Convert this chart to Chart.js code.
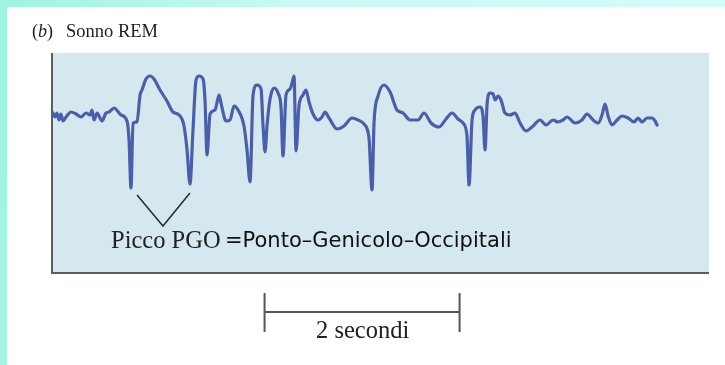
<!DOCTYPE html>
<html>
<head>
<meta charset="utf-8">
<script src="https://cdn.jsdelivr.net/npm/chart.js@4/dist/chart.umd.min.js"></script>
<style>
  body { margin: 0; width: 725px; height: 365px; position: relative; overflow: hidden; background: #fff; }
  #stripTop { position: absolute; left: 0; top: 0; width: 725px; height: 7px;
    background: linear-gradient(to right, #9ef4de, #c8f9f6 40%, #d4fbfb); }
  #stripLeft { position: absolute; left: 0; top: 0; width: 7px; height: 365px;
    background: linear-gradient(to bottom, #9ef4de, #a4f5e2); }
  canvas { position: absolute; left: 0; top: 0; }
  .txt { position: absolute; white-space: nowrap; color: #222; }
  .serif { font-family: "Liberation Serif", "DejaVu Serif", serif; }
  .sans { font-family: "DejaVu Sans", sans-serif; color: #111; }
</style>
</head>
<body>
<div id="stripTop"></div>
<div id="stripLeft"></div>
<canvas id="eeg" width="725" height="365"></canvas>
<div class="txt serif" style="left:32px; top:22px; font-size:18px; line-height:19px;">(<i>b</i>)</div>
<div class="txt serif" style="left:66px; top:22px; font-size:18.5px; line-height:19px;">Sonno REM</div>
<div class="txt serif" style="left:111px; top:228px; font-size:24.5px; line-height:24px;">Picco PGO</div>
<div class="txt sans" style="left:225px; top:229px; font-size:21px; line-height:23px;">=Ponto–Genicolo–Occipitali</div>
<div class="txt serif" style="left:316px; top:318px; font-size:24.5px; line-height:24px;">2 secondi</div>
<script>
// Tracciato EEG durante il sonno REM (tempo in secondi, ampiezza in unità arbitrarie)
const timeSec = [
  0.010, 0.031, 0.051, 0.072, 0.092, 0.113, 0.144, 0.195, 0.246, 0.297,
  0.349, 0.390, 0.410, 0.431, 0.462, 0.513, 0.554, 0.585, 0.636, 0.708,
  0.769, 0.790, 0.810, 0.831, 0.872, 0.903, 0.923, 0.964, 1.005, 1.046,
  1.108, 1.179, 1.241, 1.303, 1.354, 1.385, 1.415, 1.446, 1.477, 1.508,
  1.549, 1.569, 1.590, 1.621, 1.672, 1.713, 1.733, 1.785, 1.826, 1.867,
  1.908, 1.969, 2.000, 2.031, 2.062, 2.103, 2.144, 2.164, 2.185, 2.205,
  2.236, 2.277, 2.318, 2.349, 2.369, 2.400, 2.441, 2.462, 2.482, 2.503,
  2.533, 2.574, 2.605, 2.636, 2.677, 2.728, 2.769, 2.800, 2.841, 2.923,
  2.995, 3.077, 3.138, 3.200, 3.251, 3.282, 3.303, 3.344, 3.405, 3.467,
  3.538, 3.600, 3.672, 3.754, 3.815, 3.887, 3.969, 4.041, 4.103, 4.164,
  4.215, 4.256, 4.277, 4.308, 4.338, 4.390, 4.421, 4.441, 4.462, 4.492,
  4.523, 4.544, 4.574, 4.605, 4.646, 4.697, 4.749, 4.800, 4.862, 4.923,
  5.005, 5.067, 5.138, 5.190, 5.241, 5.282, 5.364, 5.436, 5.487, 5.549,
  5.600, 5.641, 5.672, 5.703, 5.744, 5.795, 5.846, 5.908, 5.969, 6.010,
  6.051, 6.103, 6.154, 6.185, 6.205
];
const amplitude = [
    5,   1,   5,  -2,   4,  -3,   1,   6,   4,   1,
    5,   3,   8,  -2,   5,  -3,   5,   6,  10,   3,
   -3, -22, -70,  -5,  -4,  23,  28,  39,  42,  39,
   28,  17,   6,   3,  -8, -32, -66, -12,  38,  42,
   39,  18, -37,   4,   8,  23,  15,  -3,  -2,  12,
    8,  -8, -32, -64,  23,  33,  29,  -7, -34,  -8,
   19,  30,  25,  10, -38,  23,  29,  35,  42, -33,
   12,  23,  28,  16,   4,  -2,   1,   6,   0, -11,
   -8,   0,  -2,  -6, -20, -72,  -4,  22,  33,  26,
    8,   5,  -2,  -2,   5,  -5,  -9,  -1,   5,  -1,
   -5, -18, -67,  -2,   8,  11,   1, -32,  14,  25,
   24,  18,  22,  18,   5,   3,   5,  -5, -13,  -9,
   -2,  -7,  -2,  -4,  -2,   1,  -5,  -2,   4,  -2,
   -5,   3,  14,   2,  -7,  -2,   2,   0,  -4,   0,
   -4,   0,   0,  -3,  -7
];

// "V" che indica i due picchi PGO
const pgoMarkTime = [0.872, 1.138, 1.415];
const pgoMarkAmp = [-77, -108, -75];

// barra di scala: 2 secondi
const scaleBarStart = 2.18;
const scaleBarSeconds = 2;
const scaleBarAmp = -194;
const scaleBarTickTop = -175;
const scaleBarTickBottom = -214;

const xMin = 0, xMax = 6.738;
const yMin = -155, yMax = 65;

const tracePoints = timeSec.map((t, i) => ({ x: t, y: amplitude[i] }));
const markPoints = pgoMarkTime.map((t, i) => ({ x: t, y: pgoMarkAmp[i] }));
const scaleEnd = scaleBarStart + scaleBarSeconds;
const scalePoints = [
  { x: scaleBarStart, y: scaleBarTickTop }, { x: scaleBarStart, y: scaleBarTickBottom },
  { x: scaleBarStart, y: null },
  { x: scaleBarStart, y: scaleBarAmp }, { x: scaleEnd, y: scaleBarAmp },
  { x: scaleEnd, y: null },
  { x: scaleEnd, y: scaleBarTickTop }, { x: scaleEnd, y: scaleBarTickBottom },
];

// sfondo azzurro del pannello con bordo sinistro e inferiore
const panelPlugin = {
  id: 'panel',
  beforeDraw(chart) {
    const { ctx, chartArea: a } = chart;
    ctx.save();
    ctx.fillStyle = '#d5e8f0';
    ctx.fillRect(a.left, a.top, a.right - a.left, a.bottom - a.top);
    ctx.strokeStyle = '#5a5e62';
    ctx.lineWidth = 2;
    ctx.beginPath();
    ctx.moveTo(a.left, a.top);
    ctx.lineTo(a.left, a.bottom);
    ctx.lineTo(a.right, a.bottom);
    ctx.stroke();
    ctx.restore();
  }
};

new Chart(document.getElementById('eeg').getContext('2d'), {
  type: 'scatter',
  data: {
    datasets: [
      {
        data: tracePoints,
        showLine: true,
        borderColor: '#4b5fa9',
        borderWidth: 3.2,
        borderJoinStyle: 'round',
        borderCapStyle: 'round',
        pointRadius: 0,
        cubicInterpolationMode: 'monotone',
      },
      {
        data: markPoints,
        showLine: true,
        borderColor: '#2a2a2a',
        borderWidth: 1.5,
        pointRadius: 0,
        tension: 0,
      },
      {
        data: scalePoints,
        showLine: true,
        spanGaps: false,
        clip: false,
        borderColor: '#555',
        borderWidth: 2,
        pointRadius: 0,
        tension: 0,
      },
    ],
  },
  options: {
    responsive: false,
    animation: false,
    devicePixelRatio: 1,
    layout: { padding: { left: 52, top: 53, right: 16, bottom: 92 } },
    plugins: {
      legend: { display: false },
      tooltip: { enabled: false },
    },
    scales: {
      x: { type: 'linear', display: false, min: xMin, max: xMax },
      y: { type: 'linear', display: false, min: yMin, max: yMax },
    },
  },
  plugins: [panelPlugin],
});
</script>
</body>
</html>
